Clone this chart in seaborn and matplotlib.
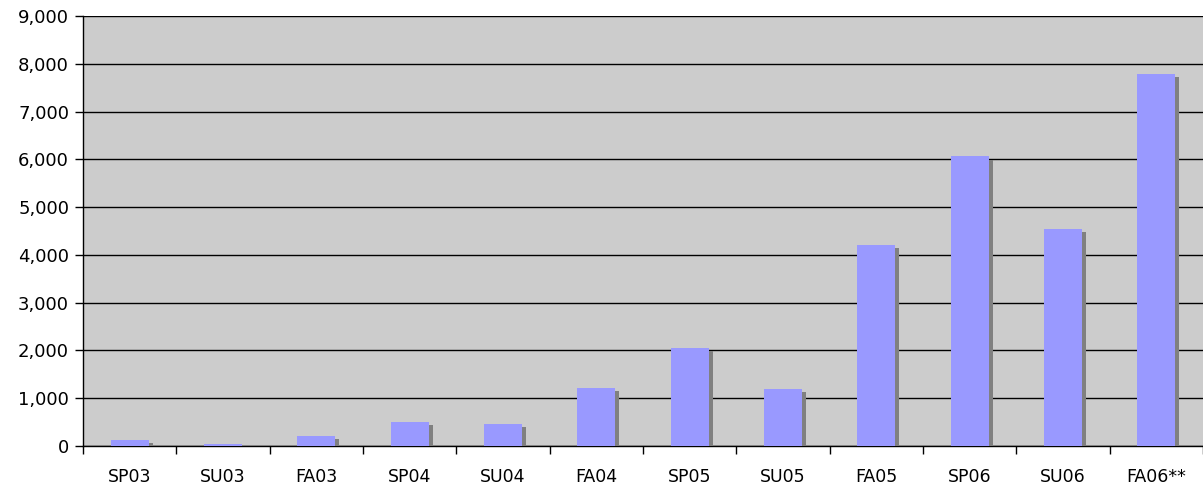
import numpy as np
import pandas as pd
import seaborn as sns
from matplotlib import pyplot as plt
from matplotlib import patheffects as pe
from matplotlib.ticker import FuncFormatter, MultipleLocator, FixedLocator

TERMS = ['SP03', 'SU03', 'FA03', 'SP04', 'SU04', 'FA04',
         'SP05', 'SU05', 'FA05', 'SP06', 'SU06', 'FA06**']
VALUES = [120, 45, 210, 500, 460, 1210, 2060, 1190, 4200, 6060, 4550, 7780]

BAR_COLOR = '#9999FF'
BG_COLOR = '#CCCCCC'

df = pd.DataFrame({'term': TERMS, 'value': VALUES})

sns.set_style('white')
plt.rcParams['font.family'] = ['DejaVu Sans']
plt.rcParams['text.color'] = 'black'

fig = plt.figure(figsize=(12.03, 4.86), dpi=100)
ax = fig.add_axes([83 / 1203, 1 - 446 / 486, 1 - 83 / 1203, 430 / 486])
ax.set_facecolor(BG_COLOR)

sns.barplot(data=df, x='term', y='value', order=TERMS, color=BAR_COLOR,
            width=0.41, saturation=1, ax=ax, zorder=3)

# excel-like drop shadow on each bar
for p in ax.patches:
    p.set_edgecolor('none')
    p.set_path_effects([pe.SimplePatchShadow(offset=(2.9, -2.2), shadow_rgbFace='#808080', alpha=1.0),
                        pe.Normal()])

ax.set_ylim(0, 9000)
ax.set_xlim(-0.5, len(TERMS) - 0.5)
ax.yaxis.set_major_locator(MultipleLocator(1000))
ax.yaxis.set_major_formatter(FuncFormatter(lambda v, _: f'{int(v):,}'))
ax.grid(axis='y', color='black', linewidth=1, zorder=1)
ax.set_axisbelow(True)

ax.xaxis.set_minor_locator(FixedLocator(np.arange(-0.5, len(TERMS), 1)))
ax.tick_params(axis='x', which='major', length=0, pad=16, labelsize=12.5, labelcolor='black')
ax.tick_params(axis='x', which='minor', length=6, width=1, color='black', direction='out',
               bottom=True)
ax.tick_params(axis='y', length=6, width=1, color='black', direction='out', labelsize=13,
               labelcolor='black', pad=4, left=True)

for s in ['top', 'right']:
    ax.spines[s].set_visible(False)
for s in ['left', 'bottom']:
    ax.spines[s].set_color('black')
    ax.spines[s].set_linewidth(1)

ax.set_xlabel('')
ax.set_ylabel('')

fig.savefig('out.png', dpi=100, facecolor='white')
